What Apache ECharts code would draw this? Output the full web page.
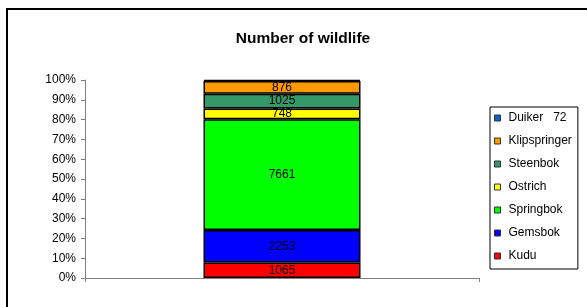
<!DOCTYPE html>
<html>
<head>
<meta charset="utf-8">
<script src="https://cdn.jsdelivr.net/npm/echarts@6/dist/echarts.min.js"></script>
<style>
  html, body {margin: 0; padding: 0; background: #fff;}
  #chart {width: 587px; height: 307px;}
</style>
</head>
<body>
<div id="chart"></div>
<script>
// one category, 100% stacked
const categories = ['']
const speciesNames = ['Kudu', 'Gemsbok', 'Springbok', 'Ostrich', 'Steenbok', 'Klipspringer', 'Duiker']
const speciesCounts = [1065, 2253, 7661, 748, 1025, 876, 72]
const speciesColors = ['#FF0000', '#0000FF', '#00FF00', '#FFFF00', '#339966', '#FF9900', '#0066CC']
const yTicks = [0, 10, 20, 30, 40, 50, 60, 70, 80, 90, 100]

const total = speciesCounts.reduce((a, b) => a + b, 0)

const chart = echarts.init(document.getElementById('chart'))

const series = speciesNames.map((name, i) => ({
    name: name,
    type: 'bar',
    stack: 'all',
    barWidth: 157,
    data: [speciesCounts[i] / total * 100],
    itemStyle: {color: speciesColors[i], borderColor: '#000', borderWidth: 1.5},
    label: {
        show: name !== 'Duiker',
        position: 'inside',
        color: '#000',
        fontSize: 12,
        textBorderWidth: 0,
        fontFamily: 'Liberation Sans',
        formatter: () => String(speciesCounts[i])
    },
    emphasis: {disabled: true}
}))

const option = {
    animation: false,
    textStyle: {fontFamily: 'Liberation Sans'},
    title: {
        text: 'Number of wildlife',
        left: 298,
        textAlign: 'center',
        top: 26,
        textStyle: {fontSize: 15.5, fontWeight: 'bold', color: '#000', fontFamily: 'Liberation Sans'}
    },
    graphic: [{
        type: 'rect',
        shape: {x: 7, y: 9, width: 600, height: 320},
        style: {fill: null, stroke: '#000', lineWidth: 2},
        silent: true
    }],
    legend: {
        orient: 'vertical',
        left: 490,
        top: 107,
        icon: 'rect',
        itemWidth: 6,
        itemHeight: 6,
        itemGap: 11,
        padding: [5, 6, 7, 4],
        borderColor: '#000',
        borderWidth: 1,
        data: speciesNames.slice().reverse(),
        itemStyle: {borderColor: '#333', borderWidth: 1},
        textStyle: {fontSize: 12, color: '#000', fontFamily: 'Liberation Sans', padding: [0, 0, 0, 3]},
        formatter: (name) => name === 'Duiker' ? name + '   ' + speciesCounts[speciesNames.indexOf(name)] : name
    },
    grid: {left: 85, right: 108, top: 80, bottom: 29},
    xAxis: {
        type: 'category',
        data: categories,
        axisLine: {lineStyle: {color: '#808080', width: 1}},
        axisTick: {show: true, length: 4, lineStyle: {color: '#808080'}},
        axisLabel: {show: false}
    },
    yAxis: {
        type: 'value',
        min: yTicks[0],
        max: yTicks[yTicks.length - 1],
        interval: 10,
        axisLine: {show: true, lineStyle: {color: '#808080', width: 1}},
        axisTick: {show: true, length: 4, lineStyle: {color: '#808080'}},
        splitLine: {show: false},
        axisLabel: {formatter: '{value}%', color: '#000', fontSize: 12, margin: 9}
    },
    series: series
}

chart.setOption(option)
</script>
</body>
</html>
